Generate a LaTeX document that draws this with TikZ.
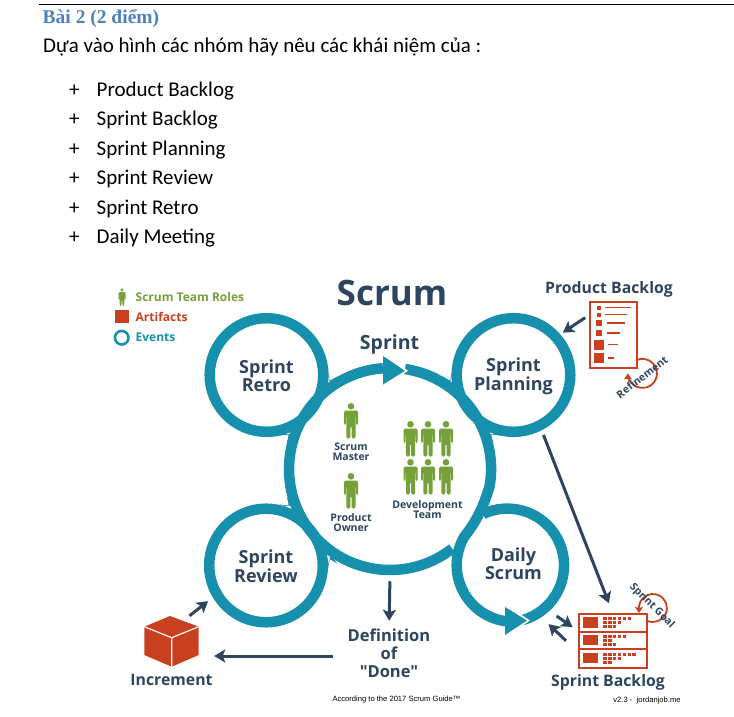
\documentclass[tikz,border=0pt]{standalone}
\usepackage{fontspec}
\usepackage{xcolor}
\setmainfont{Carlito}
\newfontfamily\headfont{Liberation Serif}
\newfontfamily\scrumfont{Open Sans}
\newfontfamily\notefont{Liberation Sans}
\usetikzlibrary{arrows.meta}

\definecolor{ringteal}{HTML}{1790AD}
\definecolor{darknavy}{HTML}{2E4560}
\definecolor{artred}{HTML}{C8401F}
\definecolor{rolegreen}{HTML}{76A03A}
\definecolor{headblue}{HTML}{4F81BD}

\newcommand{\pxfont}[1]{\fontsize{#1}{#1}\selectfont}

\tikzset{
  doctext/.style={anchor=base west, inner sep=0pt, font=\pxfont{21}},
  eventring/.style={circle, draw=ringteal, line width=10.5pt, minimum size=113.6pt, inner sep=0pt},
  eventopen/.style={circle, minimum size=113.6pt, inner sep=0pt, outer sep=5.25pt},
  eventtext/.style={align=center, text=darknavy, inner sep=0pt, shift={(0,-1)},
    font=\scrumfont\bfseries\pxfont{18}\linespread{.93}\selectfont},
  tealarc/.style={draw=ringteal, line width=10.5pt},
  rolelabel/.style={text=darknavy, align=center, inner sep=0pt, font=\scrumfont\bfseries\pxfont{10.5}\linespread{1}\selectfont},
  biglabel/.style={text=darknavy, align=center, inner sep=0pt, font=\scrumfont\bfseries\pxfont{15.8}},
  legendtext/.style={anchor=west, inner sep=0pt, font=\scrumfont\bfseries\pxfont{12}},
  conn/.style={draw=darknavy, line width=3pt, -{Stealth[length=11pt,width=13pt,inset=2.5pt]}},
  redarc/.style={draw=artred, line width=1.8pt, -{Stealth[length=6pt,width=8pt,inset=1pt]}},
  artbox/.style={draw=artred, line width=2pt, inner sep=0pt},
  person/.pic={
    \fill[rolegreen] (0,-3.3) circle (3.3);
    \fill[rolegreen, rounded corners=1.5pt] (-7,-7.5) -- (7,-7.5) -- (7,-22) -- (5.2,-22) -- (5.2,-13) -- (4.6,-13)
      -- (4.6,-35.5) -- (.7,-35.5) -- (.7,-23) -- (-.7,-23) -- (-.7,-35.5) -- (-4.6,-35.5) -- (-4.6,-13) -- (-5.2,-13)
      -- (-5.2,-22) -- (-7,-22) -- cycle;
  }
}

\begin{document}
\begin{tikzpicture}[x=1pt, y=1pt, yscale=-1]
  \useasboundingbox (0,0) rectangle (734,717);
  \fill[white] (0,0) rectangle (734,717);

  % exercise text
  \draw[line width=1pt] (39,4.5) -- (734,4.5);
  \node[doctext, text=headblue, font=\headfont\bfseries\pxfont{19.5}] (title) at (42.5,24) {Bài 2 (2 điểm)};
  \node[doctext] (intro) at (43,52.5) {Dựa vào hình các nhóm hãy nêu các khái niệm của :};
  \foreach \entry [count=\i] in {Product Backlog, Sprint Backlog, Sprint Planning, Sprint Review, Sprint Retro, Daily Meeting} {
    \node[doctext] (plus\i) at (69,{96.5+29.4*(\i-1)}) {+};
    \node[doctext] (entry\i) at (96.5,{96.5+29.4*(\i-1)}) {\entry};
  }

  % legend
  \pic[scale=.5] at (122,288) {person};
  \fill[artred] (115,310) rectangle (129,323);
  \draw[ringteal, line width=2.6pt] (121.7,337.7) circle (6.8);
  \node[legendtext, text=rolegreen] (legendroles) at (135.5,297) {Scrum Team Roles};
  \node[legendtext, text=artred] (legendartifacts) at (135.5,317) {Artifacts};
  \node[legendtext, text=ringteal] (legendevents) at (135.5,337.5) {Events};

  \node[text=darknavy, inner sep=0pt, font=\scrumfont\bfseries\pxfont{35}] (scrumtitle) at (392,293) {Scrum};
  \node[text=darknavy, inner sep=0pt, font=\scrumfont\bfseries\pxfont{19.5}] (sprintlabel) at (389.5,344) {Sprint};

  % events
  \node[eventring] (retro) at (266.5,375) {};
  \node[eventring] (planning) at (513.5,375) {};
  \node[eventring] (review) at (266,565.5) {};
  \node[eventopen] (daily) at (513.5,565) {};
  \node[circle, minimum size=202pt, inner sep=0pt, outer sep=5.25pt] (sprintcircle) at (390,469) {};

  \draw[tealarc] (521,620.5) arc (76:-115:56.8);
  \fill[white] (505,604) -- (530,620.5) -- (505,638) -- cycle;
  \draw[tealarc] (405,369) arc (-81.5:10:101) .. controls (483,508) and (476,522) .. (464.3,536.6) arc (210:98:56.8);
  \fill[ringteal] (505,607) -- (527,620.5) -- (505,635) -- cycle;

  \fill[white] (383,353) -- (408,370.8) -- (383,387) -- cycle;
  \draw[tealarc] (452.2,548.6) arc (52:266:101);
  \fill[ringteal] (383,356) -- (405,370.8) -- (383,384.5) -- cycle;

  % small fillets where the rings meet
  \foreach \sx/\sy in {1/1,-1/1,1/-1} {
    \begin{scope}[shift={(390,470)}, xscale=\sx, yscale=\sy]
      \fill[ringteal] (-61.6,-98.2) .. controls (-61.9,-87.9) .. (-52.4,-93.7) -- (-59.6,-84.6) -- cycle;
      \fill[ringteal] (-110.6,-34.4) .. controls (-100.3,-37.5) .. (-103.3,-26.8) -- (-96.6,-36.1) -- cycle;
    \end{scope}
  }

  \node[eventtext] (retrolabel) at (retro) {Sprint\\Retro};
  \node[eventtext] (planninglabel) at (planning) {Sprint\\Planning};
  \node[eventtext] (reviewlabel) at (review) {Sprint\\Review};
  \node[eventtext] (dailylabel) at (513.5,563) {Daily\\Scrum};

  % people
  \pic at (351,403) {person};
  \pic at (351,473) {person};
  \foreach \px in {410.5,428,446} {
    \pic at (\px,421) {person};
    \pic at (\px,459) {person};
  }
  \node[rolelabel] (scrummaster) at (351,451.5) {Scrum\\Master};
  \node[rolelabel] (productowner) at (351,522.5) {Product\\Owner};
  \node[rolelabel] (devteam) at (427.5,509.5) {Development\\Team};

  % product backlog
  \node[biglabel] (pblabel) at (609,289) {Product Backlog};
  \node[artbox, minimum width=47pt, minimum height=66pt] (pbacklog) at (613,334.5) {};
  \foreach \sy/\ss/\sx/\ex in {307.7/4/605/631, 314.7/4/605/626.7, 323/6/606.7/625, 333/6/606.7/620, 344.7/10/608/617.7, 358/10/608/614} {
    \fill[artred] ({599.3-\ss/2},{\sy-\ss/2}) rectangle ({599.3+\ss/2},{\sy+\ss/2});
    \draw[artred, line width=1.1pt] (\sx,\sy) -- (\ex,\sy);
  }
  \draw[redarc] (637,360) arc (-112:180:14.5);
  \node[rotate=38, text=darknavy, inner sep=0pt, font=\scrumfont\bfseries\pxfont{10.5}] (refinement) at (642,377) {Refinement};

  % sprint backlog
  \node[biglabel] (sblabel) at (608,682) {Sprint Backlog};
  \node[artbox, minimum width=68pt, minimum height=54pt] (sbacklog) at (612.5,640.5) {};
  \draw[artred, line width=1.8pt] (sbacklog.west |- 0,631.7) -- (sbacklog.east |- 0,631.7);
  \draw[artred, line width=1.8pt] (sbacklog.west |- 0,649.3) -- (sbacklog.east |- 0,649.3);
  \foreach \ry in {617.3,635,653} {
    \fill[artred] (582.7,\ry) rectangle (597.7,\ry+10.3);
  }
  \foreach \ry/\na/\nb/\nc in {616.5/6/4/3, 634.5/5/2/3, 652.5/7/4/2} {
    \foreach \k in {1,...,\na} { \fill[artred] ({603+4.9*(\k-1)},\ry) rectangle +(3.6,3); }
    \foreach \k in {1,...,\nb} { \fill[artred] ({603+4.9*(\k-1)},\ry+4) rectangle +(3.6,3); }
    \foreach \k in {1,...,\nc} { \fill[artred] ({603+4.9*(\k-1)},\ry+8) rectangle +(3.6,3); }
  }
  \draw[redarc] (647,620.7) arc (115:-180:14) -- +(0,5);
  \node[rotate=-45, text=darknavy, inner sep=0pt, font=\scrumfont\bfseries\pxfont{10.5}] (sprintgoal) at (652,606) {Sprint Goal};

  % increment
  \fill[artred] (170,616) -- (198.7,626.7) -- (198.7,655) -- (171.7,666.7) -- (144.3,655) -- (144.3,626.7) -- cycle;
  \draw[white, line width=1.2pt] (144.3,626.7) -- (171.7,637.7) -- (198.7,626.7) (171.7,637.7) -- (171.7,666.7);
  \node[minimum width=55pt, minimum height=51pt, inner sep=0pt] (cube) at (171.5,641.5) {};
  \node[biglabel] (incrementlabel) at (171.5,679.5) {Increment};

  \node[biglabel, font=\scrumfont\bfseries\pxfont{16.5}\linespread{1.1}\selectfont] (done) at (389,653.5) {Definition\\of\\"Done"};
  \coordinate (doneend) at (333,656);

  % flow
  \draw[conn, shorten <=4pt, shorten >=3pt] (pbacklog.142) -- (planning.41);
  \draw[conn, shorten <=5pt, shorten >=10pt] (planning.-63) -- (sbacklog.north);
  \draw[conn, shorten <=6pt, shorten >=8pt] (sprintcircle.south) -- (done.north);
  \draw[conn, shorten >=15pt] (doneend) -- (cube.east |- doneend);
  \draw[conn, shorten >=6pt] (cube.55) -- (review.211);
  \draw[conn, shorten <=5pt, shorten >=6pt] (daily.-51) -- (sbacklog.164);
  \draw[conn, shorten <=16pt, shorten >=7pt] (sbacklog.198) -- (daily.-61);

  % footer
  \node[inner sep=0pt, font=\notefont\pxfont{7.6}] (guidenote) at (396.5,699.5) {According to the 2017 Scrum Guide™};
  \node[inner sep=0pt, font=\notefont\pxfont{7.6}] (versionnote) at (647,700.5) {v2.3 -\ \ jordanjob.me};
\end{tikzpicture}
\end{document}
